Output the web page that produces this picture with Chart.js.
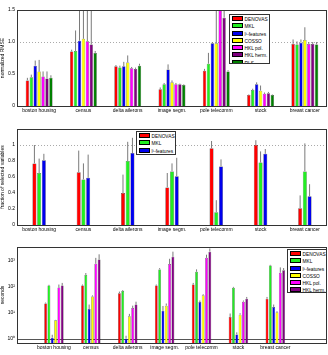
<!DOCTYPE html>
<html>
<head>
<meta charset="UTF-8">
<title>Benchmark bars</title>
<script src="https://cdn.jsdelivr.net/npm/chart.js"></script>
<style>
  body { margin:0; width:328px; height:355px; background:#fff; position:relative; overflow:hidden; font-family:"Liberation Sans", Arial, sans-serif; }
  .panel { position:absolute; left:0; width:328px; height:118px; }
  .legend { position:absolute; box-sizing:border-box; background:#fff; border:1px solid #333; padding:1px 2px; font-size:4.8px; line-height:6.8px; color:#000; overflow:hidden; }
  .legend div { white-space:nowrap; }
  .legend span { display:inline-block; box-sizing:border-box; width:11px; height:5px; border:0.5px solid #000; margin-right:1.5px; vertical-align:-0.5px; }
</style>
</head>
<body>
  <div class="panel" style="top:0"><canvas id="rmse"></canvas></div>
  <div class="panel" style="top:119px"><canvas id="frac"></canvas></div>
  <div class="panel" style="top:237px"><canvas id="secs"></canvas></div>
  <div class="legend" id="leg1" style="left:229px; top:14px; width:41px; height:50px"></div>
  <div class="legend" id="leg2" style="left:136px; top:131px; width:40px; height:24px"></div>
  <div class="legend" id="leg3" style="left:287px; top:249px; width:40px; height:44px"></div>

  <script>
    const categories = ['boston housing', 'census', 'delta ailerons', 'image segm.', 'pole telecomm', 'stock', 'breast cancer'];
    const methods = ['DENOVAS', 'MKL', 'l¹-features', 'COSSO', 'HKL pol.', 'HKL herm.', 'RLS'];
    const colors = ['#ff0000', '#22ee22', '#0000ee', '#ffff00', '#ff00ff', '#800080', '#008000'];

    // normalized RMSE (value, upper error)
    const rmseDenovas = [0.40, 0.85, 0.62, 0.26, 0.55, 0.17, 0.97];
    const rmseMkl     = [0.45, 0.86, 0.60, 0.34, 0.66, 0.25, 0.96];
    const rmseL1      = [0.63, 1.02, 0.62, 0.57, 0.98, 0.34, 0.99];
    const rmseCosso   = [0.54, 1.05, 0.68, 0.37, 0.98, 0.24, 1.03];
    const rmseHklPol  = [0.46, 1.01, 0.59, 0.34, 1.55, 0.19, 0.97];
    const rmseHklHerm = [0.43, 0.96, 0.58, 0.34, 1.38, 0.20, 0.97];
    const rmseRls     = [0.44, 0.83, 0.63, 0.33, 0.54, 0.17, 0.96];
    const rmseErrDenovas = [0.04, 0.03, 0.02, 0.03, 0.03, 0.01, 0.07];
    const rmseErrMkl     = [0.04, 0.32, 0.03, 0.02, 0.17, 0.02, 0.05];
    const rmseErrL1      = [0.08, 0.60, 0.07, 0.08, 0.02, 0.03, 0.05];
    const rmseErrCosso   = [0.18, 0.60, 0.11, 0.03, 0.60, 0.08, 0.20];
    const rmseErrHklPol  = [0.08, 0.60, 0.02, 0.02, 0.50, 0.02, 0.03];
    const rmseErrHklHerm = [0.11, 0.60, 0.02, 0.01, 0.30, 0.02, 0.03];
    const rmseErrRls     = [0.04, 0.03, 0.03, 0.01, 0.02, 0.01, 0.04];

    // fraction of selected variables
    const fracDenovas = [0.77, 0.66, 0.40, 0.47, 0.96, 1.00, 0.21];
    const fracMkl     = [0.65, 0.57, 0.80, 0.67, 0.16, 0.78, 0.67];
    const fracL1      = [0.81, 0.59, 0.90, 0.61, 0.73, 0.89, 0.36];
    const fracErrDenovas = [0.23, 0.27, 0.23, 0.18, 0.09, 0.06, 0.16];
    const fracErrMkl     = [0.18, 0.20, 0.24, 0.10, 0.15, 0.14, 0.35];
    const fracErrL1      = [0.08, 0.29, 0.19, 0.23, 0.09, 0.06, 0.15];

    // seconds (log scale)
    const secDenovas = [23, 112, 57, 112, 123, 7, 35];
    const secMkl     = [112, 288, 69, 470, 380, 92, 660];
    const secL1      = [1.12, 14, 1.03, 12, 26, 1.5, 17];
    const secCosso   = [5.2, 43, 7.5, 19, 48, 8.6, 10.6];
    const secHklPol  = [94, 770, 15.5, 750, 1300, 27, 350];
    const secHklHerm = [112, 1120, 21, 1420, 2250, 35, 440];
    const secErrDenovas = [2, 11, 9, 11, 19, 2.5, 6];
    const secErrMkl     = [8, 52, 6, 55, 90, 8, 40];
    const secErrL1      = [0.33, 7, 0.3, 6.5, 4, 0.3, 4];
    const secErrCosso   = [0.2, 4, 1.7, 4, 4, 1.1, 1];
    const secErrHklPol  = [29, 530, 3.5, 450, 420, 3, 210];
    const secErrHklHerm = [30, 660, 6, 830, 750, 6, 90];

    Chart.defaults.font.family = '"Liberation Sans", Arial, sans-serif';
    Chart.defaults.font.size = 5;
    Chart.defaults.color = '#000';

    // reference line, error bars and the axes box
    const decor = {
      id: 'decor',
      beforeDatasetsDraw(chart, args, o) {
        if (o.refLine == null) return;
        const { ctx, chartArea: a } = chart;
        const y = Math.round(chart.scales.y.getPixelForValue(o.refLine)) + 0.5;
        ctx.save();
        ctx.strokeStyle = o.refColor;
        ctx.lineWidth = 1;
        ctx.setLineDash(o.refDash || []);
        ctx.beginPath(); ctx.moveTo(a.left, y); ctx.lineTo(a.right, y); ctx.stroke();
        ctx.restore();
      },
      afterDatasetsDraw(chart) {
        const { ctx, chartArea: a } = chart;
        const ys = chart.scales.y;
        ctx.save();
        ctx.beginPath(); ctx.rect(a.left, a.top, a.right - a.left, a.bottom - a.top); ctx.clip();
        ctx.strokeStyle = '#7a7a7a';
        ctx.lineWidth = 1;
        chart.data.datasets.forEach((ds, i) => {
          chart.getDatasetMeta(i).data.forEach((bar, j) => {
            const v = ds.data[j];
            const val = typeof v === 'object' ? v.y : v;
            const y1 = ys.getPixelForValue(val + ds.err[j]);
            ctx.beginPath(); ctx.moveTo(bar.x, bar.y); ctx.lineTo(bar.x, y1); ctx.stroke();
          });
        });
        ctx.restore();
        ctx.save();
        ctx.strokeStyle = '#333';
        ctx.lineWidth = 1;
        ctx.strokeRect(Math.round(a.left) + 0.5, Math.round(a.top) + 0.5, Math.round(a.right - a.left) - 1, Math.round(a.bottom - a.top));
        ctx.restore();
      }
    };

    function barSet(label, color, data, err, base) {
      const ds = { label, data, err, backgroundColor: color, borderColor: 'rgba(0,0,0,0.75)', borderWidth: 0.5 };
      if (base !== undefined) ds.base = base;
      return ds;
    }

    function yAxis(title, extra) {
      return Object.assign({
        grid: { display: false, drawTicks: false }, border: { display: false },
        title: { display: true, text: title, padding: 0, font: { size: 5 } },
        ticks: { padding: 2, font: { size: 5 } },
        afterFit(scale) { scale.width = 17; }
      }, extra);
    }

    const xCat = {
      type: 'category', offset: true,
      grid: { display: false, drawTicks: false }, border: { display: false },
      ticks: { padding: 2, autoSkip: false, maxRotation: 0, font: { size: 5 } },
      afterFit(scale) { scale.height = 12; }
    };

    const common = {
      responsive: false, animation: false,
      layout: { padding: { top: 10, right: 1, left: 0, bottom: 0 } },
      plugins: { legend: { display: false }, tooltip: { enabled: false } }
    };

    function sizeCanvas(id) {
      const c = document.getElementById(id);
      c.width = 328; c.height = 118;
      c.style.width = '328px'; c.style.height = '118px';
      return c;
    }

    new Chart(sizeCanvas('rmse'), {
      type: 'bar',
      data: {
        labels: categories,
        datasets: [
          barSet(methods[0], colors[0], rmseDenovas, rmseErrDenovas),
          barSet(methods[1], colors[1], rmseMkl, rmseErrMkl),
          barSet(methods[2], colors[2], rmseL1, rmseErrL1),
          barSet(methods[3], colors[3], rmseCosso, rmseErrCosso),
          barSet(methods[4], colors[4], rmseHklPol, rmseErrHklPol),
          barSet(methods[5], colors[5], rmseHklHerm, rmseErrHklHerm),
          barSet(methods[6], colors[6], rmseRls, rmseErrRls)
        ]
      },
      options: Object.assign({}, common, {
        datasets: { bar: { categoryPercentage: 0.62, barPercentage: 0.85 } },
        plugins: Object.assign({}, common.plugins, { decor: { refLine: 1, refColor: '#aaa', refDash: [1, 2] } }),
        scales: {
          x: xCat,
          y: yAxis('normalized RMSE', { min: 0, max: 1.5, ticks: { padding: 2, stepSize: 0.5, font: { size: 5 } } })
        }
      }),
      plugins: [decor]
    });

    new Chart(sizeCanvas('frac'), {
      type: 'bar',
      data: {
        labels: categories,
        datasets: [
          barSet(methods[0], colors[0], fracDenovas, fracErrDenovas),
          barSet(methods[1], colors[1], fracMkl, fracErrMkl),
          barSet(methods[2], colors[2], fracL1, fracErrL1)
        ]
      },
      options: Object.assign({}, common, {
        datasets: { bar: { categoryPercentage: 0.32, barPercentage: 0.85 } },
        plugins: Object.assign({}, common.plugins, { decor: { refLine: 1, refColor: '#aaa', refDash: [1, 2] } }),
        scales: {
          x: xCat,
          y: yAxis('fraction of selected variables', {
            min: 0, max: 1.2,
            ticks: { padding: 2, stepSize: 0.2, font: { size: 5 }, callback: v => v > 1.05 ? '' : String(Math.round(v * 10) / 10) }
          })
        }
      }),
      plugins: [decor]
    });

    const sup = ['⁰', '¹', '²', '³'];
    const pts = arr => arr.map((v, i) => ({ x: i + 1, y: v }));
    const logMin = 0.7;

    new Chart(sizeCanvas('secs'), {
      type: 'bar',
      data: {
        datasets: [
          barSet(methods[0], colors[0], pts(secDenovas), secErrDenovas, logMin),
          barSet(methods[1], colors[1], pts(secMkl), secErrMkl, logMin),
          barSet(methods[2], colors[2], pts(secL1), secErrL1, logMin),
          barSet(methods[3], colors[3], pts(secCosso), secErrCosso, logMin),
          barSet(methods[4], colors[4], pts(secHklPol), secErrHklPol, logMin),
          barSet(methods[5], colors[5], pts(secHklHerm), secErrHklHerm, logMin)
        ]
      },
      options: Object.assign({}, common, {
        datasets: { bar: { categoryPercentage: 0.54, barPercentage: 0.85 } },
        plugins: Object.assign({}, common.plugins, { decor: { refLine: 1, refColor: '#555' } }),
        scales: {
          x: {
            type: 'linear', min: 0, max: 8.4, offset: false,
            grid: { display: false, offset: false, drawTicks: false }, border: { display: false },
            afterBuildTicks(scale) { scale.ticks = categories.map((c, i) => ({ value: i + 1 })); },
            ticks: { padding: 2, autoSkip: false, maxRotation: 0, font: { size: 5 }, callback: v => categories[v - 1] },
            afterFit(scale) { scale.height = 12; }
          },
          y: yAxis('seconds', {
            type: 'logarithmic', min: logMin, max: 3400,
            afterBuildTicks(scale) { scale.ticks = [1, 10, 100, 1000].map(v => ({ value: v })); },
            ticks: { padding: 2, font: { size: 5 }, callback: v => '10' + sup[Math.round(Math.log10(v))] }
          })
        }
      }),
      plugins: [decor]
    });

    function legend(id, n) {
      document.getElementById(id).innerHTML = methods.slice(0, n)
        .map((m, i) => `<div><span style="background:${colors[i]}"></span>${m}</div>`).join('');
    }
    legend('leg1', 7);
    legend('leg2', 3);
    legend('leg3', 6);
  </script>
</body>
</html>
